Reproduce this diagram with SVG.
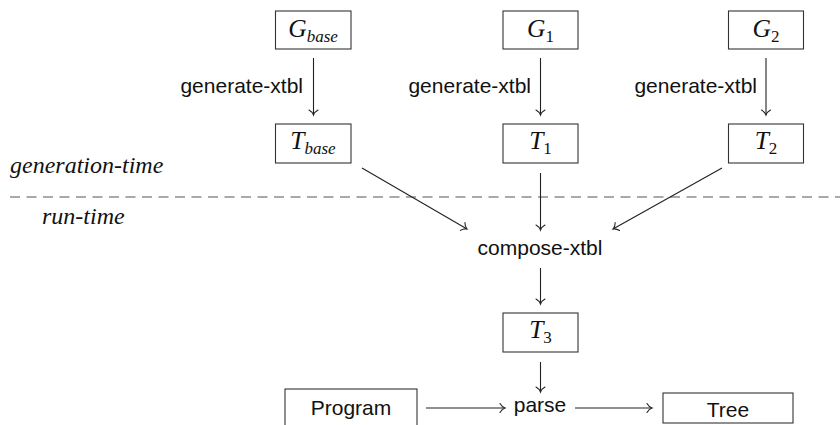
<svg xmlns="http://www.w3.org/2000/svg" width="840" height="425" viewBox="0 0 840 425">
<style>
.box{fill:#fff;stroke:#333;stroke-width:1.1}
.lbl{font-family:"Liberation Sans",Arial,sans-serif;font-size:21px;fill:#111}
.math{font-family:"Liberation Serif","Times New Roman",serif;font-style:italic;font-size:24px;fill:#111}
.big{font-size:25.5px}
.sub{font-size:17px}
.up{font-style:normal}
.edge{fill:none;stroke:#222;stroke-width:1.1;marker-end:url(#tip)}
.dash{fill:none;stroke:#555;stroke-width:1.2;stroke-dasharray:10 6.5}
</style>
<defs>
<marker id="tip" markerUnits="userSpaceOnUse" markerWidth="14" markerHeight="14" viewBox="-7 -7 14 14" refX="0" refY="0" orient="auto">
<path d="M-5,-4.5 C-3.5,-1.8 -1.2,-0.4 0,0 C-1.2,0.4 -3.5,1.8 -5,4.5" fill="none" stroke="#222" stroke-width="1.1" stroke-linecap="round"/>
</marker>
</defs>
<rect width="840" height="425" fill="#fff"/>
<g id="separator">
<line class="dash" x1="10" y1="197" x2="840" y2="197"/>
<text class="math" x="10" y="173">generation-time</text>
<text class="math" x="42" y="224">run-time</text>
</g>
<g id="connectors">
<line class="edge" x1="313.5" y1="58" x2="313.5" y2="115"/>
<line class="edge" x1="540.5" y1="58" x2="540.5" y2="115"/>
<line class="edge" x1="766" y1="58" x2="766" y2="115"/>
<line class="edge" x1="362" y1="168" x2="467" y2="229"/>
<line class="edge" x1="540.5" y1="173" x2="540.5" y2="230"/>
<line class="edge" x1="722" y1="168" x2="613" y2="229"/>
<line class="edge" x1="540.5" y1="268" x2="540.5" y2="304"/>
<line class="edge" x1="540.5" y1="362" x2="540.5" y2="392"/>
<line class="edge" x1="426" y1="408" x2="505" y2="408"/>
<line class="edge" x1="575" y1="408" x2="652" y2="408"/>
<text class="lbl" x="303" y="93" text-anchor="end">generate-xtbl</text>
<text class="lbl" x="531" y="93" text-anchor="end">generate-xtbl</text>
<text class="lbl" x="757" y="93" text-anchor="end">generate-xtbl</text>
</g>
<g id="Gbase">
<rect class="box" x="275.5" y="11" width="75.5" height="38"/>
<text class="math big" x="313" y="37" text-anchor="middle">G<tspan class="sub" dy="5">base</tspan></text>
</g>
<g id="G1">
<rect class="box" x="503" y="11" width="75" height="38"/>
<text class="math big" x="540.5" y="37" text-anchor="middle">G<tspan class="sub up" dy="5">1</tspan></text>
</g>
<g id="G2">
<rect class="box" x="728.5" y="11" width="75" height="38"/>
<text class="math big" x="766" y="37" text-anchor="middle">G<tspan class="sub up" dy="5">2</tspan></text>
</g>
<g id="Tbase">
<rect class="box" x="275.5" y="124" width="75.5" height="39"/>
<text class="math big" x="313" y="149" text-anchor="middle">T<tspan class="sub" dy="5">base</tspan></text>
</g>
<g id="T1">
<rect class="box" x="503" y="124" width="75" height="39"/>
<text class="math big" x="540.5" y="149" text-anchor="middle">T<tspan class="sub up" dy="5">1</tspan></text>
</g>
<g id="T2">
<rect class="box" x="728.5" y="124" width="75" height="39"/>
<text class="math big" x="766" y="149" text-anchor="middle">T<tspan class="sub up" dy="5">2</tspan></text>
</g>
<g id="compose">
<text class="lbl" x="540" y="255" text-anchor="middle">compose-xtbl</text>
</g>
<g id="T3">
<rect class="box" x="503" y="313" width="75" height="39"/>
<text class="math big" x="540.5" y="338" text-anchor="middle">T<tspan class="sub up" dy="5">3</tspan></text>
</g>
<g id="Program">
<rect class="box" x="285" y="389" width="132" height="40"/>
<text class="lbl" x="351" y="415" text-anchor="middle">Program</text>
</g>
<g id="parse">
<text class="lbl" x="540" y="412" text-anchor="middle">parse</text>
</g>
<g id="Tree">
<rect class="box" x="663" y="393" width="130" height="30"/>
<text class="lbl" x="728" y="417" text-anchor="middle">Tree</text>
</g>
</svg>
